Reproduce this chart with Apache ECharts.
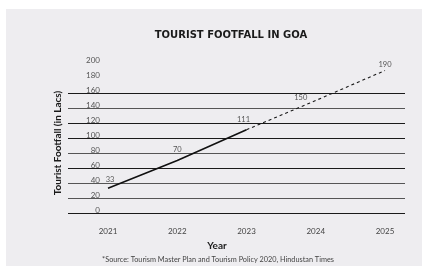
<!DOCTYPE html>
<html>
<head>
<meta charset="utf-8">
<script src="https://cdn.jsdelivr.net/npm/echarts@6/dist/echarts.min.js"></script>
<style>
  html, body { margin: 0; padding: 0; background: #fff; }
  #chart { width: 422px; height: 266px; }
</style>
</head>
<body>
<div id="chart"></div>
<script>
const years = ['2021', '2022', '2023', '2024', '2025'];
const actual = [33, 70, 111, null, null];
const projected = [null, null, 111, 150, 190];
const yTicks = [0, 20, 40, 60, 80, 100, 120, 140, 160, 180, 200];

// per-point label placement (style only)
const labelPos = {
    0: {position: 'top', distance: 4, offset: [2, 0]},
    1: {position: 'top', distance: 6},
    2: {position: 'top', distance: 6, offset: [-3, 0]},
    3: {position: 'left', distance: 8, offset: [0, -3]},
    4: {position: 'top', distance: 1},
};

const font = 'Lato, "Liberation Sans", sans-serif';
const gridTop = 63;
const gridBottom = 53;

// horizontal rules stop at 160
const ruleColors = yTicks.map((v, i) => {
    if (v > 160) return 'rgba(0,0,0,0)';
    return [0, 3, 5, 6, 8].includes(i) ? '#1a1a1a' : '#555';
});

function withLabels(values, skip) {
    return values.map((v, i) => {
        if (v == null) return null;
        if (i === skip) return {value: v, label: {show: false}};
        return {value: v, label: Object.assign({show: true}, labelPos[i])};
    });
}

const chart = echarts.init(document.getElementById('chart'), null, {renderer: 'canvas'});
chart.setOption({
    animation: false,
    backgroundColor: '#fff',
    textStyle: {fontFamily: font},
    graphic: [
        {
            type: 'rect', z: -10, silent: true,
            shape: {x: 6, y: 9, width: 416, height: 257},
            style: {fill: '#eeedf0'},
        },
        {
            type: 'text', silent: true,
            x: 58, y: 143, rotation: Math.PI / 2,
            style: {
                text: 'Tourist Footfall (in Lacs)',
                font: 'bold 10px ' + font,
                fill: '#1a1a1a',
                align: 'center', verticalAlign: 'middle',
            },
        },
    ],
    title: [
        {
            text: 'TOURIST FOOTFALL IN GOA',
            left: 231, top: 30, textAlign: 'center', padding: 0,
            textStyle: {fontSize: 10, fontWeight: 'bold', color: '#1a1a1a', fontFamily: '"DejaVu Sans", sans-serif'},
        },
        {
            text: 'Year',
            left: 217, top: 241, textAlign: 'center', padding: 0,
            textStyle: {fontSize: 10, fontWeight: 'bold', color: '#1a1a1a', fontFamily: font},
        },
        {
            text: '*Source: Tourism Master Plan and Tourism Policy 2020, Hindustan Times',
            left: 218, top: 256, textAlign: 'center', padding: 0,
            textStyle: {fontSize: 7.3, fontWeight: 'normal', color: '#444', fontFamily: font},
        },
    ],
    grid: [
        {left: 68, right: 17, top: gridTop, bottom: gridBottom},
        {left: 108, right: 37, top: gridTop, bottom: gridBottom},
    ],
    xAxis: [
        {gridIndex: 0, type: 'value', show: false},
        {
            gridIndex: 1, type: 'category', data: years, boundaryGap: false,
            axisLine: {show: false}, axisTick: {show: false},
            axisLabel: {margin: 14, fontSize: 8, color: '#444', fontFamily: font},
        },
    ],
    yAxis: [
        {
            gridIndex: 0, type: 'value', min: 0, max: 200, interval: 20,
            axisLine: {show: false}, axisTick: {show: false},
            axisLabel: {
                inside: true, margin: 32, align: 'right', verticalAlign: 'bottom',
                lineHeight: 6, fontSize: 8, color: '#555', fontFamily: font,
                formatter: (v) => yTicks.includes(v) ? String(v) : '',
            },
            splitLine: {show: true, lineStyle: {color: ruleColors, width: 1}},
        },
        {gridIndex: 1, type: 'value', min: 0, max: 200, show: false},
    ],
    series: [
        {
            name: 'Actual', type: 'line', xAxisIndex: 1, yAxisIndex: 1,
            data: withLabels(actual, -1),
            symbol: 'circle', symbolSize: 1, showSymbol: true,
            itemStyle: {color: 'rgba(0,0,0,0)'},
            lineStyle: {color: '#111', width: 1.6},
            label: {fontSize: 7.5, color: '#555', fontFamily: font},
            z: 5,
        },
        {
            name: 'Projected', type: 'line', xAxisIndex: 1, yAxisIndex: 1,
            data: withLabels(projected, 2),
            symbol: 'circle', symbolSize: 1, showSymbol: true,
            itemStyle: {color: 'rgba(0,0,0,0)'},
            lineStyle: {color: '#1a1a1a', width: 1.1, type: [3, 3]},
            label: {fontSize: 7.5, color: '#555', fontFamily: font},
            z: 4,
        },
    ],
});
</script>
</body>
</html>
